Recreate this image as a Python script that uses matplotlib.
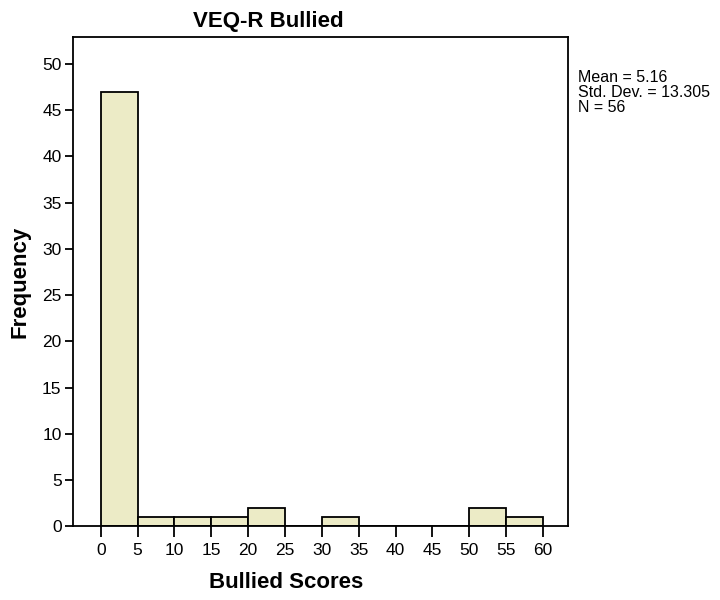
import matplotlib.pyplot as plt
import numpy as np

# histogram bins (lower edges) and counts
bin_edges = [0, 5, 10, 15, 20, 25, 30, 35, 40, 45, 50, 55]
counts = [47, 1, 1, 1, 2, 0, 1, 0, 0, 0, 2, 1]
x_ticks = list(range(0, 65, 5))
y_ticks = list(range(0, 55, 5))
stats_lines = ['Mean = 5.16', 'Std. Dev. = 13.305', 'N = 56']

plt.rcParams['font.family'] = ['Liberation Sans', 'DejaVu Sans']

fig = plt.figure(figsize=(7.2, 6), dpi=100)
ax = fig.add_axes([0.101, 0.123, 0.688, 0.815])

ax.bar(bin_edges, counts, width=5, align='edge',
       color='#ecebc6', edgecolor='black', linewidth=1.3)

ax.set_xlim(-3.8, 63.4)
ax.set_ylim(0, 52.9)
ax.set_xticks(x_ticks)
ax.set_yticks(y_ticks)
ax.tick_params(axis='x', direction='out', length=8, width=1.3, labelsize=12.5, pad=4)
ax.tick_params(axis='y', direction='out', length=6, width=1.3, labelsize=12.5, pad=2)
for s in ax.spines.values():
    s.set_linewidth(1.3)

# title and x label sit left of the axes centre, as in the SPSS output
fig.text(268 / 720, 1 - 21 / 600, 'VEQ-R Bullied', fontsize=16, fontweight='bold',
         ha='center', va='center')
fig.text(286 / 720, 1 - 583 / 600, 'Bullied Scores', fontsize=16, fontweight='bold',
         ha='center', va='center')
ax.set_ylabel('Frequency', fontsize=16, fontweight='bold', labelpad=8)

for i, line in enumerate(stats_lines):
    fig.text(578 / 720, 1 - (78 + 14.5 * i) / 600, line, fontsize=11.5,
             ha='left', va='center')

fig.savefig('out.png', dpi=100, facecolor='white')
